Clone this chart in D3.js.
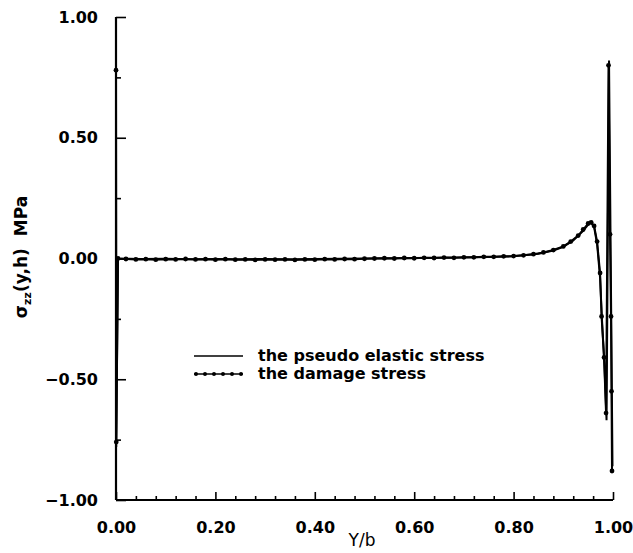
<!DOCTYPE html>
<html>
<head>
	<title>Stress profile</title>
	<script src="https://d3js.org/d3.v7.min.js" charset="utf-8"></script>
	<style>
		body { margin: 0; background: #fff; }
		text { font-family: "DejaVu Sans", sans-serif; font-weight: bold; fill: #000; }
	</style>
</head>
<body>
	<svg width="633" height="553"></svg>
	<script>
		// damage stress (line + dots)
		const damageX = [0, 0.0005, 0.004,
			0.02, 0.04, 0.06, 0.08, 0.10, 0.12, 0.14, 0.16, 0.18, 0.20,
			0.22, 0.24, 0.26, 0.28, 0.30, 0.32, 0.34, 0.36, 0.38, 0.40,
			0.42, 0.44, 0.46, 0.48, 0.50, 0.52, 0.54, 0.56, 0.58, 0.60,
			0.62, 0.64, 0.66, 0.68, 0.70, 0.72, 0.74, 0.76, 0.78, 0.80,
			0.82, 0.84, 0.86, 0.88, 0.90, 0.915, 0.93, 0.94, 0.95, 0.956,
			0.962, 0.968, 0.974, 0.977, 0.982, 0.986, 0.991, 0.994, 0.996, 0.997, 0.998];
		const damageY = [0.78, -0.76, 0.0,
			-0.002, -0.004, -0.003, -0.005, -0.003, -0.004, -0.002, -0.004, -0.003, -0.005,
			-0.003, -0.005, -0.004, -0.006, -0.004, -0.005, -0.004, -0.006, -0.004, -0.005,
			-0.003, -0.004, -0.002, -0.003, -0.001, 0.0, 0.001, 0.0, 0.002, 0.001,
			0.003, 0.002, 0.004, 0.003, 0.005, 0.005, 0.007, 0.007, 0.009, 0.01,
			0.013, 0.018, 0.025, 0.035, 0.05, 0.07, 0.095, 0.12, 0.145, 0.15,
			0.135, 0.07, -0.06, -0.24, -0.41, -0.64, 0.80, 0.10, -0.24, -0.55, -0.88];

		// pseudo elastic stress (plain line)
		const elasticX = [0, 0.0005, 0.004, 0.05, 0.10, 0.15, 0.20, 0.25, 0.30, 0.35, 0.40,
			0.45, 0.50, 0.55, 0.60, 0.65, 0.70, 0.75, 0.80, 0.85, 0.88, 0.90,
			0.92, 0.94, 0.95, 0.956, 0.962, 0.968, 0.974, 0.978, 0.983, 0.987, 0.992, 0.999];
		const elasticY = [0.80, -0.78, 0.0, -0.002, -0.001, -0.003, -0.002, -0.003, -0.002, -0.003, -0.002,
			-0.001, 0.0, 0.001, 0.002, 0.003, 0.004, 0.006, 0.009, 0.02, 0.033, 0.048,
			0.075, 0.115, 0.14, 0.148, 0.13, 0.06, -0.08, -0.26, -0.45, -0.67, 0.82, -0.86];

		const xMajor = [0, 0.2, 0.4, 0.6, 0.8, 1.0];
		const xMinor = [0.04, 0.08, 0.12, 0.16, 0.24, 0.28, 0.32, 0.36, 0.44, 0.48, 0.52, 0.56,
			0.64, 0.68, 0.72, 0.76, 0.84, 0.88, 0.92, 0.96];
		const yMajor = [-1.0, -0.5, 0.0, 0.5, 1.0];
		const yMinor = [-0.75, -0.25, 0.25, 0.75];

		const svg = d3.select('svg');

		const x = d3.scaleLinear().domain([0, 1]).range([116, 613]);
		const y = d3.scaleLinear().domain([-1, 1]).range([500, 17]);

		// axes, ticks pointing inward
		const xAx = svg.append('g').attr('transform', 'translate(0,500)');
		xAx.call(d3.axisBottom(x).tickValues(xMajor).tickSize(-8).tickPadding(22).tickFormat(d3.format('.2f')));
		xAx.append('g').call(d3.axisBottom(x).tickValues(xMinor).tickSize(-4).tickFormat(''));

		const yAx = svg.append('g').attr('transform', 'translate(116,0)');
		yAx.call(d3.axisLeft(y).tickValues(yMajor).tickSize(-10).tickPadding(18).tickFormat(d3.format('.2f')));
		yAx.append('g').call(d3.axisLeft(y).tickValues(yMinor).tickSize(-5).tickFormat(''));

		svg.selectAll('.domain').remove();
		svg.selectAll('.tick line').attr('stroke', '#000').attr('stroke-width', 1.6);
		svg.selectAll('.tick text').style('font-size', '16px').attr('fill', '#000');

		svg.append('line').attr('x1', x(0)).attr('x2', x(1)).attr('y1', y(-1)).attr('y2', y(-1))
			.attr('stroke', '#000').attr('stroke-width', 2.2);
		svg.append('line').attr('x1', x(0)).attr('x2', x(0)).attr('y1', y(-1)).attr('y2', y(1))
			.attr('stroke', '#000').attr('stroke-width', 2.2);

		// curves
		const line = d3.line().x(d => x(d[0])).y(d => y(d[1]));
		const elastic = d3.zip(elasticX, elasticY);
		const damage = d3.zip(damageX, damageY);

		svg.append('path').datum(elastic).attr('d', line)
			.attr('fill', 'none').attr('stroke', '#000').attr('stroke-width', 2);
		svg.append('path').datum(damage).attr('d', line)
			.attr('fill', 'none').attr('stroke', '#000').attr('stroke-width', 2);
		svg.selectAll('.dot').data(damage).enter().append('circle')
			.attr('cx', d => x(d[0])).attr('cy', d => y(d[1])).attr('r', 2.4).attr('fill', '#000');

		// axis titles
		svg.append('text').attr('x', 362).attr('y', 546).attr('text-anchor', 'middle')
			.style('font-size', '17px').style('font-weight', 'normal').text('Y/b');

		const yt = svg.append('text').attr('transform', 'translate(27,257) rotate(-90)')
			.attr('text-anchor', 'middle').style('font-size', '17px');
		yt.append('tspan').text('σ');
		yt.append('tspan').attr('dy', 4).style('font-size', '11px').text('zz');
		yt.append('tspan').attr('dy', -4).text('(y,h)');
		yt.append('tspan').attr('dx', 12).text('MPa');

		// legend
		const lg = svg.append('g');
		lg.append('line').attr('x1', 194).attr('x2', 243).attr('y1', 356).attr('y2', 356)
			.attr('stroke', '#000').attr('stroke-width', 1.6);
		lg.append('line').attr('x1', 194).attr('x2', 243).attr('y1', 374).attr('y2', 374)
			.attr('stroke', '#000').attr('stroke-width', 1.6);
		lg.selectAll('circle').data([196, 205, 214, 223, 232, 241]).enter().append('circle')
			.attr('cx', d => d).attr('cy', 374).attr('r', 2).attr('fill', '#000');
		lg.append('text').attr('x', 258).attr('y', 361).style('font-size', '16px')
			.text('the pseudo elastic stress');
		lg.append('text').attr('x', 258).attr('y', 379).style('font-size', '16px')
			.text('the damage stress');
	</script>
</body>
</html>
